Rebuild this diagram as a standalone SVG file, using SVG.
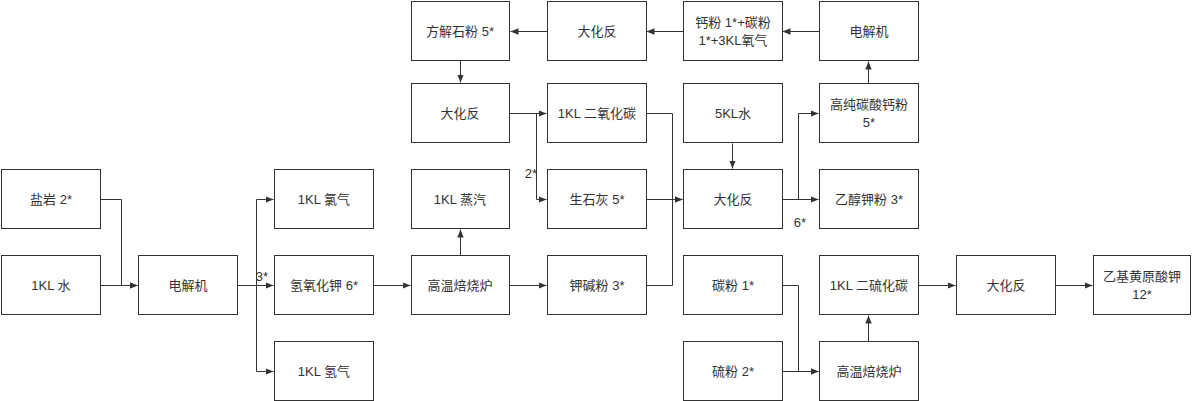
<svg xmlns="http://www.w3.org/2000/svg" width="1192" height="401" viewBox="0 0 1192 401">
<style>
.n rect{fill:#fff;stroke:#333;stroke-width:1}
.n text,.lb{font-family:"Liberation Sans","Noto Sans CJK SC",sans-serif;font-size:13px;fill:#333;text-anchor:middle;dominant-baseline:central}
.c path{fill:none;stroke:#333;stroke-width:1}
</style>
<defs>
<marker id="a" viewBox="0 0 10 10" refX="10" refY="5" markerWidth="8" markerHeight="8" markerUnits="userSpaceOnUse" orient="auto">
<path d="M0,1 L10,5 L0,9 Z" fill="#333"/>
</marker>
</defs>
<rect width="1192" height="401" fill="#fff"/>
<g class="c" marker-end="url(#a)">
<path d="M100.5,199.5 H121.5 V285.5 H137.5" marker-end="url(#a)"/>
<path d="M100.5,285.5 H137.5" marker-end="url(#a)"/>
<path d="M237.5,285.5 H256.5 V199.5 H273.5" marker-end="url(#a)"/>
<path d="M256.5,285.5 H273.5" marker-end="url(#a)"/>
<path d="M256.5,285.5 V371.5 H273.5" marker-end="url(#a)"/>
<path d="M373.5,285.5 H410.5" marker-end="url(#a)"/>
<path d="M460.5,255.5 V229.5" marker-end="url(#a)"/>
<path d="M509.5,285.5 H546.5" marker-end="url(#a)"/>
<path d="M460.5,60.5 V82.5" marker-end="url(#a)"/>
<path d="M547.5,31.5 H510.5" marker-end="url(#a)"/>
<path d="M683.5,31.5 H646.5" marker-end="url(#a)"/>
<path d="M819.5,31.5 H782.5" marker-end="url(#a)"/>
<path d="M868.5,83.5 V61.5" marker-end="url(#a)"/>
<path d="M509.5,113.5 H546.5" marker-end="url(#a)"/>
<path d="M536.5,113.5 V199.5 H546.5" marker-end="url(#a)"/>
<path d="M646.5,113.5 H672.5 V199.5 H682.5" marker-end="url(#a)"/>
<path d="M646.5,199.5 H682.5" marker-end="url(#a)"/>
<path d="M646.5,285.5 H672.5 V199.5" marker-end="none"/>
<path d="M732.5,143.5 V168.5" marker-end="url(#a)"/>
<path d="M782.5,199.5 H818.5" marker-end="url(#a)"/>
<path d="M798.5,199.5 V113.5 H818.5" marker-end="url(#a)"/>
<path d="M782.5,285.5 H798.5 V371.5 H818.5" marker-end="url(#a)"/>
<path d="M782.5,371.5 H818.5" marker-end="url(#a)"/>
<path d="M868.5,341.5 V315.5" marker-end="url(#a)"/>
<path d="M918.5,285.5 H955.5" marker-end="url(#a)"/>
<path d="M1055.5,285.5 H1092.5" marker-end="url(#a)"/>
</g>
<g id="n1" class="n"><rect x="1.5" y="169.5" width="99" height="59"/><text x="51" y="199">盐岩 2*</text></g>
<g id="n2" class="n"><rect x="1.5" y="255.5" width="99" height="59"/><text x="51" y="285">1KL 水</text></g>
<g id="n3" class="n"><rect x="138.5" y="255.5" width="99" height="59"/><text x="188" y="285">电解机</text></g>
<g id="n4" class="n"><rect x="274.5" y="169.5" width="99" height="59"/><text x="324" y="199">1KL 氯气</text></g>
<g id="n5" class="n"><rect x="274.5" y="255.5" width="99" height="59"/><text x="324" y="285">氢氧化钾 6*</text></g>
<g id="n6" class="n"><rect x="274.5" y="341.5" width="99" height="59"/><text x="324" y="371">1KL 氢气</text></g>
<g id="n7" class="n"><rect x="411.5" y="169.5" width="98" height="59"/><text x="460" y="199">1KL 蒸汽</text></g>
<g id="n8" class="n"><rect x="411.5" y="255.5" width="98" height="59"/><text x="460" y="285">高温焙烧炉</text></g>
<g id="n9" class="n"><rect x="411.5" y="1.5" width="98" height="59"/><text x="460" y="31">方解石粉 5*</text></g>
<g id="n10" class="n"><rect x="411.5" y="83.5" width="98" height="59"/><text x="460" y="113">大化反</text></g>
<g id="n11" class="n"><rect x="547.5" y="1.5" width="99" height="59"/><text x="597" y="31">大化反</text></g>
<g id="n12" class="n"><rect x="547.5" y="83.5" width="99" height="59"/><text x="597" y="113">1KL 二氧化碳</text></g>
<g id="n13" class="n"><rect x="547.5" y="169.5" width="99" height="59"/><text x="597" y="199">生石灰 5*</text></g>
<g id="n14" class="n"><rect x="547.5" y="255.5" width="99" height="59"/><text x="597" y="285">钾碱粉 3*</text></g>
<g id="n15" class="n"><rect x="683.5" y="1.5" width="99" height="59"/><text x="733" y="22">钙粉 1*+碳粉</text><text x="733" y="40">1*+3KL氧气</text></g>
<g id="n16" class="n"><rect x="683.5" y="83.5" width="99" height="59"/><text x="733" y="113">5KL水</text></g>
<g id="n17" class="n"><rect x="683.5" y="169.5" width="99" height="59"/><text x="733" y="199">大化反</text></g>
<g id="n18" class="n"><rect x="683.5" y="255.5" width="99" height="59"/><text x="733" y="285">碳粉 1*</text></g>
<g id="n19" class="n"><rect x="683.5" y="341.5" width="99" height="59"/><text x="733" y="371">硫粉 2*</text></g>
<g id="n20" class="n"><rect x="819.5" y="1.5" width="99" height="59"/><text x="869" y="31">电解机</text></g>
<g id="n21" class="n"><rect x="819.5" y="83.5" width="99" height="59"/><text x="869" y="104">高纯碳酸钙粉</text><text x="869" y="122">5*</text></g>
<g id="n22" class="n"><rect x="819.5" y="169.5" width="99" height="59"/><text x="869" y="199">乙醇钾粉 3*</text></g>
<g id="n23" class="n"><rect x="819.5" y="255.5" width="99" height="59"/><text x="869" y="285">1KL 二硫化碳</text></g>
<g id="n24" class="n"><rect x="819.5" y="341.5" width="99" height="59"/><text x="869" y="371">高温焙烧炉</text></g>
<g id="n25" class="n"><rect x="956.5" y="255.5" width="99" height="59"/><text x="1006" y="285">大化反</text></g>
<g id="n26" class="n"><rect x="1093.5" y="255.5" width="97" height="59"/><text x="1142" y="276">乙基黄原酸钾</text><text x="1142" y="294">12*</text></g>
<g id="labels">
<text class="lb" x="262" y="276">3*</text>
<text class="lb" x="531" y="173">2*</text>
<text class="lb" x="800" y="222">6*</text>
</g>
</svg>
